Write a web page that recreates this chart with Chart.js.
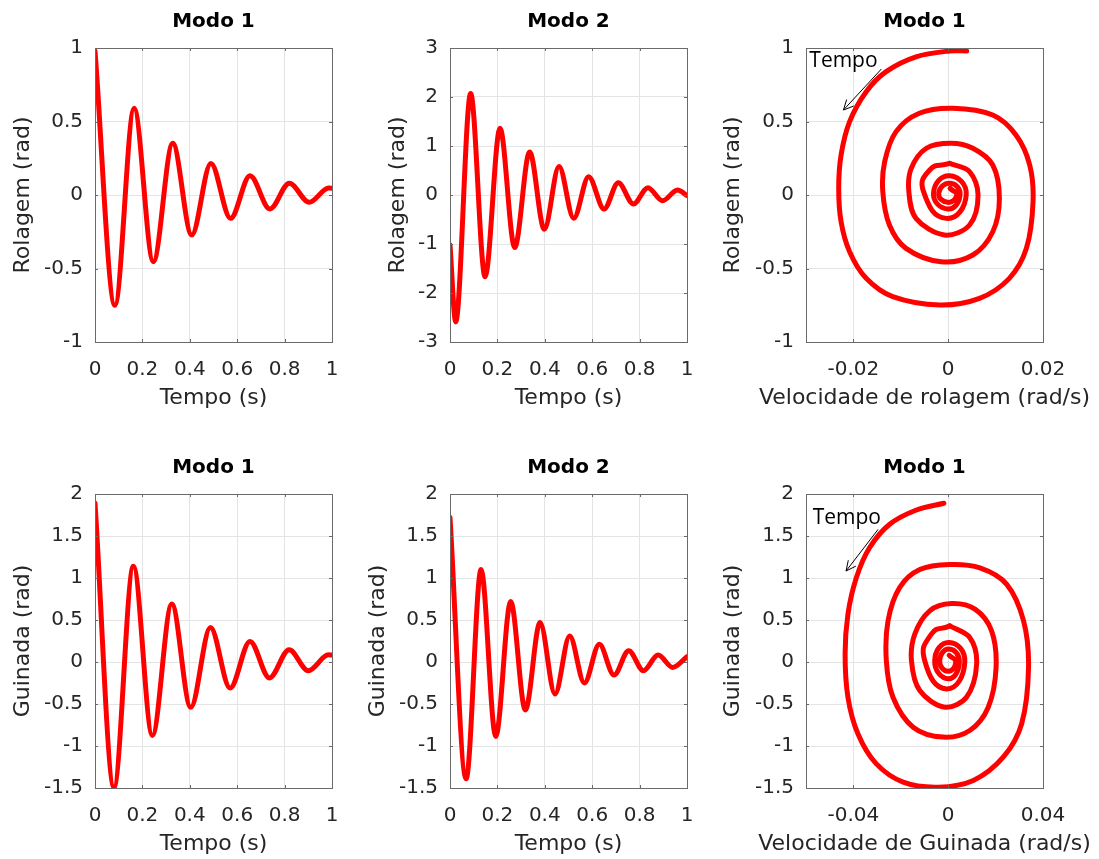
<!DOCTYPE html>
<html>
<head>
<meta charset="utf-8">
<script src="https://cdn.jsdelivr.net/npm/chart.js@4/dist/chart.umd.min.js"></script>
<style>
body { margin: 0; background: #fff; overflow: hidden; }
#fig { position: relative; width: 1099px; height: 859px; }
canvas { position: absolute; }
</style>
</head>
<body>
<div id="fig">
  <canvas id="g1" width="360" height="414" style="left:0px;top:0px"></canvas>
  <canvas id="g2" width="345" height="414" style="left:375px;top:0px"></canvas>
  <canvas id="g3" width="389" height="414" style="left:710px;top:0px"></canvas>
  <canvas id="g4" width="360" height="414" style="left:0px;top:446px"></canvas>
  <canvas id="g5" width="365" height="414" style="left:355px;top:446px"></canvas>
  <canvas id="g6" width="389" height="414" style="left:710px;top:446px"></canvas>
</div>
<script>
// rolagem, modo 1 (picos e vales)
const tempoRol1 = [0, 0.084, 0.165, 0.246, 0.328, 0.408, 0.489, 0.572, 0.654, 0.738, 0.82, 0.904, 0.986, 1.0];
const rolagem1  = [0.98, -0.75, 0.59, -0.454, 0.352, -0.272, 0.215, -0.159, 0.131, -0.095, 0.08, -0.05, 0.048, 0.046];

// rolagem, modo 2
const tempoRol2 = [0, 0.024, 0.087, 0.148, 0.211, 0.273, 0.336, 0.398, 0.46, 0.522, 0.585, 0.65, 0.71, 0.774, 0.835, 0.897, 0.96, 1.0];
const rolagem2  = [-1.02, -2.59, 2.07, -1.67, 1.36, -1.07, 0.88, -0.70, 0.58, -0.476, 0.374, -0.286, 0.25, -0.184, 0.15, -0.116, 0.10, -0.01];

// guinada, modo 1
const tempoGui1 = [0, 0.08, 0.162, 0.242, 0.324, 0.404, 0.487, 0.57, 0.654, 0.736, 0.819, 0.9, 0.985, 1.0];
const guinada1  = [1.89, -1.49, 1.14, -0.874, 0.69, -0.54, 0.41, -0.31, 0.245, -0.19, 0.146, -0.103, 0.085, 0.083];

// guinada, modo 2
const tempoGui2 = [0, 0.068, 0.131, 0.193, 0.256, 0.318, 0.38, 0.443, 0.505, 0.567, 0.63, 0.692, 0.754, 0.816, 0.878, 0.94, 1.0];
const guinada2  = [1.72, -1.39, 1.10, -0.886, 0.72, -0.57, 0.47, -0.38, 0.31, -0.25, 0.21, -0.155, 0.134, -0.103, 0.083, -0.064, 0.063];

// plano de fase rolagem (velocidade x angulo)
const velRol1 = [
  0.0039, 0.0003, -0.0068, -0.0131, -0.0173, -0.0208, -0.0226, -0.0231, -0.0226, -0.0208, -0.0173, -0.0117, -0.0018,
  0.0066, 0.0129, 0.0165, 0.0179, 0.0172, 0.0143, 0.0094, 0.001,
  -0.0061, -0.011, -0.0134, -0.0138, -0.0124, -0.0089, -0.0015,
  0.0052, 0.0094, 0.0108, 0.0094, 0.0052, 0.0006,
  -0.0046, -0.0078, -0.0083, -0.0068, -0.0008,
  0.0045, 0.0063, 0.0045, 0.0003,
  -0.0039, -0.0052, -0.0004, 0.0038, 0.0003, -0.0031, -0.0001, 0.0025, 0.0004, -0.002, -0.0001, 0.0018, 0.0004
];
const rolFase1 = [
  0.98, 0.98, 0.94, 0.839, 0.703, 0.499, 0.272, 0.045, -0.181, -0.386, -0.567, -0.692, -0.748,
  -0.703, -0.567, -0.363, -0.045, 0.204, 0.408, 0.544, 0.59,
  0.556, 0.431, 0.227, 0.023, -0.204, -0.363, -0.454,
  -0.408, -0.25, -0.023, 0.204, 0.318, 0.352,
  0.318, 0.181, 0.023, -0.159, -0.272,
  -0.204, 0.0, 0.159, 0.215,
  0.17, 0.023, -0.159, 0.0, 0.131, 0.012, -0.095, 0.0, 0.08, 0.012, -0.05, 0.0, 0.045
];

// plano de fase guinada
const velGui1 = [
  -0.0018, -0.0134, -0.0247, -0.0332, -0.0388, -0.0423, -0.0435, -0.0423, -0.0381, -0.0304, -0.019, -0.0042,
  0.0106, 0.0233, 0.031, 0.0339, 0.0318, 0.0247, 0.0134, 0.0007,
  -0.012, -0.0205, -0.0254, -0.0261, -0.0233, -0.0148, -0.0021,
  0.0091, 0.0169, 0.0202, 0.0183, 0.0113, 0.0014,
  -0.0078, -0.0141, -0.0155, -0.012, -0.0014,
  0.0077, 0.012, 0.0091, 0.0007,
  -0.0071, -0.0099, -0.0007, 0.007, 0.0004, -0.0057, 0.0, 0.0047, 0.0004, -0.0036, 0.0, 0.0032, 0.0004
];
const guiFase1 = [
  1.89, 1.81, 1.64, 1.36, 1.00, 0.57, 0.095, -0.42, -0.854, -1.21, -1.43, -1.49,
  -1.41, -1.13, -0.735, -0.064, 0.49, 0.925, 1.12, 1.16,
  1.10, 0.885, 0.49, 0.015, -0.42, -0.776, -0.894,
  -0.815, -0.538, -0.064, 0.371, 0.629, 0.695,
  0.609, 0.332, 0.015, -0.34, -0.538,
  -0.42, -0.024, 0.292, 0.43,
  0.332, 0.015, -0.32, 0.0, 0.233, 0.015, -0.2, 0.0, 0.154, 0.015, -0.11, 0.0, 0.08
];

// marcas dos eixos
const ticksTempo = [0, 0.2, 0.4, 0.6, 0.8, 1];
const ticksRol1 = [-1, -0.5, 0, 0.5, 1];
const ticksRol2 = [-3, -2, -1, 0, 1, 2, 3];
const ticksGui = [-1.5, -1, -0.5, 0, 0.5, 1, 1.5, 2];
const ticksVelRol = [-0.02, 0, 0.02];
const ticksVelGui = [-0.04, 0, 0.04];

const corTexto = '#262626';
const fonteTick = {family: 'DejaVu Sans', size: 20};
const fonteRotulo = {family: 'DejaVu Sans', size: 22};

// caixa do eixo, marcas para dentro, rotulo x e seta "Tempo"
const moldura = {
  id: 'moldura',
  afterDraw(chart, args, o) {
    const ctx = chart.ctx, a = chart.chartArea, sx = chart.scales.x, sy = chart.scales.y;
    ctx.save();
    ctx.strokeStyle = '#6a6a6a';
    ctx.lineWidth = 1;
    ctx.beginPath();
    sx.ticks.forEach(t => {
      const p = Math.round(sx.getPixelForValue(t.value)) + 0.5;
      ctx.moveTo(p, a.bottom); ctx.lineTo(p, a.bottom - 3);
      ctx.moveTo(p, a.top); ctx.lineTo(p, a.top + 3);
    });
    sy.ticks.forEach(t => {
      const p = Math.round(sy.getPixelForValue(t.value)) + 0.5;
      ctx.moveTo(a.left, p); ctx.lineTo(a.left + 3, p);
      ctx.moveTo(a.right, p); ctx.lineTo(a.right - 3, p);
    });
    ctx.stroke();
    ctx.strokeRect(Math.round(a.left) + 0.5, Math.round(a.top) + 0.5, Math.round(a.width), Math.round(a.height));

    ctx.fillStyle = corTexto;
    ctx.font = '22px "DejaVu Sans"';
    ctx.textAlign = 'center';
    ctx.textBaseline = 'middle';
    ctx.fillText(o.rotuloX, (a.left + a.right) / 2, a.bottom + 56);

    if (o.seta) {
      const s = o.seta;
      ctx.fillStyle = '#000';
      ctx.font = '21px "Open Sans"';
      ctx.textAlign = 'left';
      ctx.textBaseline = 'alphabetic';
      ctx.fillText(s.texto, sx.getPixelForValue(s.tx), sy.getPixelForValue(s.ty));
      const x0 = sx.getPixelForValue(s.x0), y0 = sy.getPixelForValue(s.y0);
      const x1 = sx.getPixelForValue(s.x1), y1 = sy.getPixelForValue(s.y1);
      const ang = Math.atan2(y1 - y0, x1 - x0);
      ctx.strokeStyle = '#000';
      ctx.beginPath();
      ctx.moveTo(x0, y0); ctx.lineTo(x1, y1);
      ctx.moveTo(x1 - 11 * Math.cos(ang - 0.45), y1 - 11 * Math.sin(ang - 0.45));
      ctx.lineTo(x1, y1);
      ctx.lineTo(x1 - 11 * Math.cos(ang + 0.45), y1 - 11 * Math.sin(ang + 0.45));
      ctx.stroke();
    }
    ctx.restore();
  }
};

function eixo(min, max, marcas, extra) {
  return Object.assign({
    type: 'linear',
    min: min,
    max: max,
    afterBuildTicks: s => { s.ticks = marcas.map(v => ({value: v})); },
    grid: {color: '#e4e4e4', drawTicks: false},
    border: {display: false}
  }, extra);
}

function serie(pts, tensao, modo) {
  return {
    data: pts,
    borderColor: '#ff0000',
    borderWidth: 5,
    borderCapStyle: 'round',
    borderJoinStyle: 'round',
    pointRadius: 0,
    fill: false,
    tension: tensao,
    cubicInterpolationMode: modo
  };
}

function grafico(id, c) {
  const pts = c.xs.map((v, i) => ({x: v, y: c.ys[i]}));
  // espiral: voltas externas lidas com 8 pontos, voltas internas com 4
  const series = c.corte
    ? [serie(pts.slice(0, c.corte + 1), 0.34, 'default'), serie(pts.slice(c.corte), 0.55, 'default')]
    : [serie(pts, 0.4, 'monotone')];
  return new Chart(document.getElementById(id), {
    type: 'line',
    data: {datasets: series},
    options: {
      responsive: false,
      animation: false,
      events: [],
      devicePixelRatio: 1,
      layout: {padding: {left: 0, top: 0, bottom: 0, right: c.dir}},
      plugins: {
        legend: {display: false},
        tooltip: {enabled: false},
        title: {
          display: true, text: c.titulo, fullSize: false, color: '#000',
          font: {family: 'DejaVu Sans', size: 20, weight: 'bold'},
          padding: {top: 10, bottom: 14}
        },
        moldura: {rotuloX: c.rotuloX, seta: c.seta}
      },
      scales: {
        x: eixo(c.xMin, c.xMax, c.xTicks, {
          afterFit: s => { s.height = 72; },
          ticks: {font: fonteTick, color: corTexto, autoSkip: false, maxRotation: 0, padding: 16, callback: v => String(v)}
        }),
        y: eixo(c.yMin, c.yMax, c.yTicks, {
          afterFit: s => { s.width = c.largY; },
          ticks: {font: fonteTick, color: corTexto, autoSkip: false, padding: 12, callback: v => String(v)},
          title: {display: true, text: c.rotuloY, color: corTexto, font: fonteRotulo, padding: {top: 10, bottom: 0}}
        })
      }
    },
    plugins: [moldura]
  });
}

grafico('g1', {titulo: 'Modo 1', xs: tempoRol1, ys: rolagem1, xMin: 0, xMax: 1, xTicks: ticksTempo,
  yMin: -1, yMax: 1, yTicks: ticksRol1, largY: 95, dir: 28, rotuloX: 'Tempo (s)', rotuloY: 'Rolagem (rad)'});
grafico('g2', {titulo: 'Modo 2', xs: tempoRol2, ys: rolagem2, xMin: 0, xMax: 1, xTicks: ticksTempo,
  yMin: -3, yMax: 3, yTicks: ticksRol2, largY: 75, dir: 33, rotuloX: 'Tempo (s)', rotuloY: 'Rolagem (rad)'});
grafico('g3', {titulo: 'Modo 1', xs: velRol1, ys: rolFase1, corte: 42, xMin: -0.03, xMax: 0.02, xTicks: ticksVelRol,
  yMin: -1, yMax: 1, yTicks: ticksRol1, largY: 96, dir: 56,
  rotuloX: 'Velocidade de rolagem (rad/s)', rotuloY: 'Rolagem (rad)',
  seta: {texto: 'Tempo', tx: -0.0293, ty: 0.871, x0: -0.0141, y0: 0.857, x1: -0.0221, y1: 0.578}});
grafico('g4', {titulo: 'Modo 1', xs: tempoGui1, ys: guinada1, xMin: 0, xMax: 1, xTicks: ticksTempo,
  yMin: -1.5, yMax: 2, yTicks: ticksGui, largY: 95, dir: 28, rotuloX: 'Tempo (s)', rotuloY: 'Guinada (rad)'});
grafico('g5', {titulo: 'Modo 2', xs: tempoGui2, ys: guinada2, xMin: 0, xMax: 1, xTicks: ticksTempo,
  yMin: -1.5, yMax: 2, yTicks: ticksGui, largY: 95, dir: 33, rotuloX: 'Tempo (s)', rotuloY: 'Guinada (rad)'});
grafico('g6', {titulo: 'Modo 1', xs: velGui1, ys: guiFase1, corte: 41, xMin: -0.06, xMax: 0.04, xTicks: ticksVelGui,
  yMin: -1.5, yMax: 2, yTicks: ticksGui, largY: 96, dir: 56,
  rotuloX: 'Velocidade de Guinada (rad/s)', rotuloY: 'Guinada (rad)',
  seta: {texto: 'Tempo', tx: -0.0572, ty: 1.637, x0: -0.0296, y0: 1.578, x1: -0.0431, y1: 1.083}});
</script>
</body>
</html>
